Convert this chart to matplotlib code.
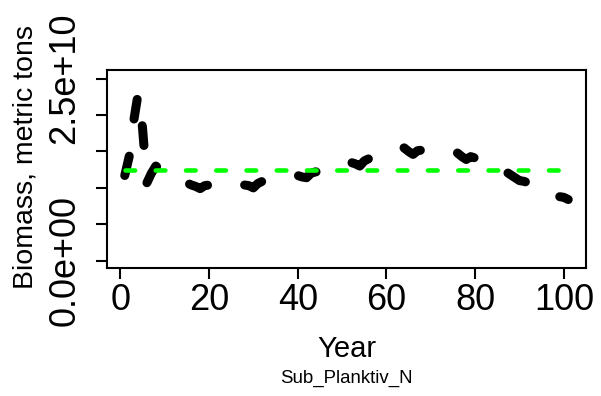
import matplotlib
matplotlib.use("Agg")
import matplotlib.pyplot as plt
import numpy as np

plt.rcParams["font.family"] = ["Liberation Sans", "DejaVu Sans"]

# Annual biomass (metric tons) for Sub_Planktiv_N, years 1..101
years = list(range(1, 102))
biomass_e10 = [
    1.17, 1.43, 1.91, 2.29, 1.83, 1.07, 1.20, 1.30, 1.26, 1.22,
    1.18, 1.15, 1.12, 1.10, 1.07, 1.04, 1.02, 0.99, 1.03, 1.04,
    1.04, 1.03, 1.02, 1.03, 1.02, 1.03, 1.04, 1.04, 1.03, 1.00,
    1.06, 1.09, 1.09, 1.10, 1.11, 1.12, 1.13, 1.14, 1.15, 1.17,
    1.15, 1.14, 1.20, 1.22, 1.22, 1.24, 1.26, 1.28, 1.30, 1.31,
    1.33, 1.35, 1.33, 1.30, 1.37, 1.40, 1.41, 1.43, 1.46, 1.48,
    1.50, 1.52, 1.54, 1.55, 1.50, 1.46, 1.51, 1.52, 1.52, 1.52,
    1.52, 1.51, 1.51, 1.50, 1.50, 1.48, 1.43, 1.39, 1.43, 1.41,
    1.40, 1.38, 1.35, 1.32, 1.28, 1.25, 1.22, 1.18, 1.14, 1.10,
    1.09, 1.07, 1.04, 1.01, 0.98, 0.95, 0.93, 0.91, 0.88, 0.87,
    0.84,
]
biomass = np.array(biomass_e10) * 1e10

# Reference level drawn as a horizontal dashed line
ref_level = 1.24e10

ytick_values = [0, 0.5e10, 1.0e10, 1.5e10, 2.0e10, 2.5e10]
ytick_labels = ["0.0e+00", "", "", "", "", "2.5e+10"]
xtick_values = [0, 20, 40, 60, 80, 100]

W, H = 601, 396
fig = plt.figure(figsize=(W / 100, H / 100), dpi=100)
ax = fig.add_axes([107 / W, (H - 268) / H, (586 - 107) / W, (268 - 70) / H])

ax.plot(years, biomass, color="black", lw=6.5,
        linestyle=(0, (2.2, 4.15)), dash_capstyle="round",
        solid_capstyle="round", dash_joinstyle="round")
ax.plot([years[0], years[-1]], [ref_level, ref_level], color="#00FF00", lw=3.3,
        linestyle=(0, (2.1, 4.5)), dash_capstyle="round")

# R-style axis extents: 4% padding, y upper limit at 1.1 x max
xr = years[-1] - years[0]
ax.set_xlim(years[0] - 0.04 * xr, years[-1] + 0.04 * xr)
ytop = 1.1 * biomass.max()
ax.set_ylim(-0.04 * ytop, 1.04 * ytop)

ax.set_xticks(xtick_values)
ax.set_xticklabels([str(v) for v in xtick_values])
ax.set_yticks(ytick_values)
ax.set_yticklabels(ytick_labels, rotation=90, va="center", ha="right")

for s in ax.spines.values():
    s.set_linewidth(1.5)
ax.tick_params(axis="both", length=8, width=1.5, labelsize=26)
ax.tick_params(axis="x", pad=3)
ax.tick_params(axis="y", pad=9.6)

ax.set_ylabel("Biomass, metric tons", fontsize=20.5)
ax.yaxis.set_label_coords(-0.142, 0.563)

fig.text(346.5 / W, 1 - 357.3 / H, "Year", fontsize=21, ha="center", va="baseline")
fig.text(346.5 / W, 1 - 383.3 / H, "Sub_Planktiv_N", fontsize=13.4, ha="center", va="baseline")

fig.savefig("out.png", dpi=100)
